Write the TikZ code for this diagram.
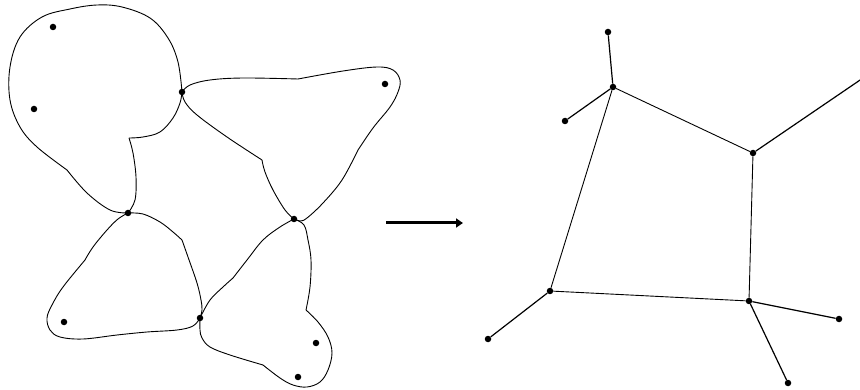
\documentclass[tikz,border=0pt]{standalone}
\usetikzlibrary{arrows.meta}
\begin{document}
\begin{tikzpicture}[x=1pt,y=-1pt,
  blob/.style={line width=0.9pt, line join=round},
  dot/.style={circle,fill=black,inner sep=0pt,minimum size=6.5pt},
  edge/.style={line width=0.9pt},
  leaf/.style={line width=1.2pt},
  bigarrow/.style={line width=3pt,-{Triangle[length=7pt,width=9pt]}}]
\useasboundingbox (0,0) rectangle (860,390);

% ---------- left figure: dots ----------
\node[dot] (p1) at (53,27) {};
\node[dot] (p2) at (34,109) {};
\node[dot] (p3) at (385,84) {};
\node[dot] (p4) at (64,322) {};
\node[dot] (p5) at (316,343) {};
\node[dot] (p6) at (298,377) {};
\node[dot] (j1) at (182,92) {};
\node[dot] (j2) at (128,213) {};
\node[dot] (j3) at (294,219) {};
\node[dot] (j4) at (200,318) {};

% blob 1 (top-left)
\draw[blob] plot[smooth,tension=0.6] coordinates {(182,92) (178,62) (168,38) (150,18) (122,7) (97,5) (70,9) (42,17) (20,37) (10,67) (10,100) (20,127) (37,147) (67,170)};
\draw[blob] plot[smooth,tension=0.6] coordinates {(67,170) (87,193) (110,210) (128,213)};
\draw[blob] plot[smooth,tension=0.6] coordinates {(128,213) (135,200) (136,177) (133,153) (129,138)};
\draw[blob] plot[smooth,tension=0.6] coordinates {(129,138) (143,137) (160,132) (173,118) (180,103) (182,92)};

% blob 2 (top-right)
\draw[blob] plot[smooth,tension=0.6] coordinates {(182,92) (190,85) (210,80) (243,78) (298,79)};
\draw[blob] plot[smooth,tension=0.6] coordinates {(298,79) (343,71) (377,67) (393,70) (400,80) (398,92) (390,107) (373,128) (358,150)};
\draw[blob] plot[smooth,tension=0.6] coordinates {(358,150) (342,180) (323,203) (307,218) (300,221) (294,219)};
\draw[blob] plot[smooth,tension=0.6] coordinates {(294,219) (285,210) (273,190) (265,172) (262,160)};
\draw[blob] plot[smooth,tension=0.6] coordinates {(262,160) (227,137) (197,115) (185,102) (182,92)};

% blob 3 (bottom-left)
\draw[blob] plot[smooth,tension=0.6] coordinates {(128,213) (143,214) (160,222) (173,232) (182,240)};
\draw[blob] plot[smooth,tension=0.6] coordinates {(182,240) (188,257) (197,283) (201,300) (202,310) (200,318)};
\draw[blob] plot[smooth,tension=0.6] coordinates {(200,318) (193,326) (177,330) (147,332) (117,335) (83,339) (60,337) (50,330) (47,318) (52,305) (63,287) (85,260)};
\draw[blob] plot[smooth,tension=0.6] coordinates {(85,260) (93,247) (107,230) (118,219) (128,213)};

% blob 4 (bottom-right)
\draw[blob] plot[smooth,tension=0.6] coordinates {(294,219) (304,225) (308,240) (311,260) (310,287) (306,310)};
\draw[blob] plot[smooth,tension=0.6] coordinates {(306,310) (318,322) (328,337) (332,353) (328,370) (320,382) (307,387) (293,385) (280,378) (263,365)};
\draw[blob] plot[smooth,tension=0.6] coordinates {(263,365) (230,355) (210,347) (202,338) (200,330) (200,318)};
\draw[blob] plot[smooth,tension=0.6] coordinates {(200,318) (210,300) (223,287) (233,278)};
\draw[blob] plot[smooth,tension=0.6] coordinates {(233,278) (247,260) (263,240) (280,227) (294,219)};

% ---------- arrow ----------
\coordinate (as) at (386,223);
\coordinate (ae) at (463,223);
\draw[bigarrow] (as) -- (ae);

% ---------- right graph ----------
\node[dot] (A) at (613,87) {};
\node[dot] (B) at (753,153) {};
\node[dot] (C) at (550,291) {};
\node[dot] (D) at (749,301) {};
\node[dot] (a1) at (608,32) {};
\node[dot] (a2) at (565,121) {};
\node[dot] (c1) at (488,339) {};
\node[dot] (d1) at (839,319) {};
\node[dot] (d2) at (788,383) {};
\coordinate (b1) at (866,76);

\draw[edge] (A) -- (B);
\draw[edge] (B) -- (D);
\draw[edge] (D) -- (C);
\draw[edge] (C) -- (A);
\draw[leaf] (A) -- (a1);
\draw[leaf] (A) -- (a2);
\draw[leaf] (B) -- (b1);
\draw[leaf] (C) -- (c1);
\draw[leaf] (D) -- (d1);
\draw[leaf] (D) -- (d2);
\end{tikzpicture}
\end{document}
